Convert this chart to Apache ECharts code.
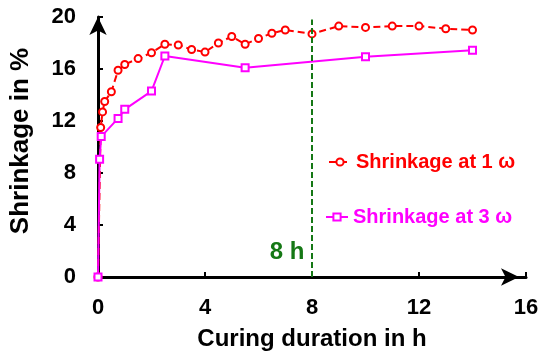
<!DOCTYPE html>
<html>
<head>
<meta charset="utf-8">
<script src="https://cdn.jsdelivr.net/npm/echarts@6/dist/echarts.min.js"></script>
<style>html,body{margin:0;padding:0;background:#fff}#c{width:550px;height:361px}</style>
</head>
<body>
<div id="c"></div>
<script>
const redX = [0, 0.1, 0.17, 0.25, 0.5, 0.75, 1, 1.5, 2, 2.5, 3, 3.5, 4, 4.5, 5, 5.5, 6, 6.5, 7, 8, 9, 10, 11, 12, 13, 14];
const redY = [0, 11.5, 12.7, 13.5, 14.25, 15.9, 16.35, 16.8, 17.25, 17.9, 17.85, 17.5, 17.3, 18.0, 18.5, 17.9, 18.35, 18.75, 19.0, 18.7, 19.3, 19.2, 19.3, 19.3, 19.1, 19.0];
const magX = [0, 0.06, 0.12, 0.75, 1, 2, 2.5, 5.5, 10, 14];
const magY = [0, 9.05, 10.8, 12.2, 12.9, 14.3, 17.0, 16.1, 16.95, 17.45];
const seriesNames = ['Shrinkage at 1 \u03c9', 'Shrinkage at 3 \u03c9'];
const markX = 8;
const markTop = 19.8;
const markLabel = '8 h';
const xTicks = {min: 0, max: 16, interval: 4};
const yTicks = {min: 0, max: 20, interval: 4};

const FONT = 'Liberation Sans, Arial, sans-serif';
const chart = echarts.init(document.getElementById('c'), null, {renderer: 'canvas'});
const axisLabelStyle = {color: '#000', fontWeight: 'bold', fontSize: 22, fontFamily: FONT};
const tickStyle = {show: true, inside: true, length: 5, lineStyle: {color: '#000', width: 2}};
chart.setOption({
  animation: false,
  grid: {left: 96, right: 24, top: 17, bottom: 84, containLabel: false},
  legend: [
    {data: [seriesNames[0]], left: 323, top: 147, itemWidth: 22, itemHeight: 9,
     textStyle: {color: '#ff0000', fontWeight: 'bold', fontSize: 20, fontFamily: FONT}},
    {data: [seriesNames[1]], left: 320, top: 202, itemWidth: 22, itemHeight: 9,
     textStyle: {color: '#ff00ff', fontWeight: 'bold', fontSize: 20, fontFamily: FONT}}
  ],
  xAxis: {
    type: 'value', min: xTicks.min, max: xTicks.max, interval: xTicks.interval,
    axisLine: {show: true, lineStyle: {color: '#000', width: 3}, symbol: ['none', 'arrow'], symbolSize: [13, 18], symbolOffset: [0, -7]},
    axisTick: tickStyle, splitLine: {show: false},
    axisLabel: Object.assign({}, axisLabelStyle, {margin: 20}),
    name: 'Curing duration in h', nameLocation: 'middle', nameGap: 50,
    nameTextStyle: {color: '#000', fontWeight: 'bold', fontSize: 24, fontFamily: FONT}
  },
  yAxis: {
    type: 'value', min: yTicks.min, max: yTicks.max, interval: yTicks.interval,
    axisLine: {show: true, lineStyle: {color: '#000', width: 3}, symbol: ['none', 'arrow'], symbolSize: [13, 18], symbolOffset: [0, 0]},
    axisTick: tickStyle, splitLine: {show: false},
    axisLabel: Object.assign({}, axisLabelStyle, {margin: 22}),
    name: 'Shrinkage in %', nameLocation: 'middle', nameGap: 64,
    nameTextStyle: {color: '#000', fontWeight: 'bold', fontSize: 26, fontFamily: FONT, padding: [0, 0, 0, 12]}
  },
  series: [
    {
      name: seriesNames[0], type: 'line', data: redX.map((x, i) => [x, redY[i]]),
      symbol: 'emptyCircle', symbolSize: 7, z: 3,
      lineStyle: {color: '#ff0000', width: 2, type: [7, 4]},
      itemStyle: {color: '#ff0000', borderWidth: 1.8},
      markLine: {
        silent: true, symbol: ['none', 'none'],
        lineStyle: {color: '#157815', width: 2, type: [6, 3]},
        label: {show: false},
        data: [[{coord: [markX, 0]}, {coord: [markX, markTop]}]]
      },
      markPoint: {
        silent: true, symbol: 'circle', symbolSize: 1, itemStyle: {color: 'rgba(0,0,0,0)'},
        label: {show: true, formatter: markLabel, color: '#157815', fontWeight: 'bold', fontSize: 24, fontFamily: FONT, offset: [-25, 1]},
        data: [{coord: [markX, 2]}]
      }
    },
    {
      name: seriesNames[1], type: 'line', data: magX.map((x, i) => [x, magY[i]]),
      symbol: 'emptyRect', symbolSize: 7, z: 4,
      lineStyle: {color: '#ff00ff', width: 2},
      itemStyle: {color: '#ff00ff', borderWidth: 1.8}
    }
  ]
});
</script>
</body>
</html>
